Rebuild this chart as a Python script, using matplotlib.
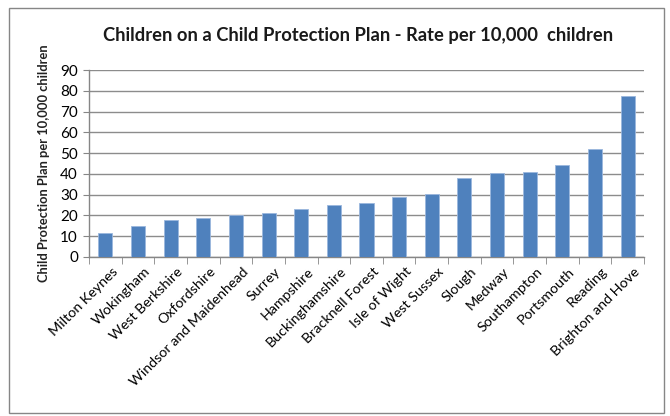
import matplotlib
matplotlib.use("Agg")
import matplotlib.pyplot as plt
from matplotlib.patches import Rectangle
from matplotlib.transforms import ScaledTranslation
import numpy as np

areas = [
    "Milton Keynes", "Wokingham", "West Berkshire", "Oxfordshire",
    "Windsor and Maidenhead", "Surrey", "Hampshire", "Buckinghamshire",
    "Bracknell Forest", "Isle of Wight", "West Sussex", "Slough", "Medway",
    "Southampton", "Portsmouth", "Reading", "Brighton and Hove",
]
rates = [11.5, 15.1, 17.6, 18.9, 20.2, 21.2, 23.1, 25.2, 26.0, 28.7,
         30.1, 38.1, 40.2, 40.9, 44.2, 51.9, 77.4]
y_ticks = list(range(0, 100, 10))

plt.rcParams["font.family"] = ["Lato", "DejaVu Sans"]

fig = plt.figure(figsize=(6.7, 4.16), dpi=100)
ax = fig.add_axes([89 / 670, 1 - 257 / 416, (644 - 89) / 670, (257 - 70) / 416])

x = np.arange(len(areas))
ax.bar(x, rates, width=0.43, color="#4F81BD", edgecolor="#9BB7DD",
       linewidth=0.6, zorder=3)

ax.set_xlim(-0.5, len(areas) - 0.5)
ax.set_ylim(0, 90)
ax.set_yticks(y_ticks)
ax.tick_params(axis="y", labelsize=11, length=4, color="#868686",
               direction="out", pad=4)
ax.grid(axis="y", color="#8c8c8c", linewidth=1.0, zorder=0)

# category ticks sit between the bars
ax.set_xticks(x)
ax.set_xticklabels(areas, rotation=45, ha="right", rotation_mode="anchor",
                   fontsize=10.3)
ax.tick_params(axis="x", length=0, pad=6)
shift = ScaledTranslation(6 / 100, 0, fig.dpi_scale_trans)
for lbl in ax.get_xticklabels():
    lbl.set_transform(lbl.get_transform() + shift)
ax.set_xticks(np.arange(-0.5, len(areas)), minor=True)
ax.tick_params(axis="x", which="minor", length=5, color="#868686",
               direction="out")

for side in ("top", "right"):
    ax.spines[side].set_visible(False)
for side in ("left", "bottom"):
    ax.spines[side].set_color("#868686")
    ax.spines[side].set_linewidth(1.0)

ax.set_ylabel("Child Protection Plan per 10,000 children", fontsize=9.3,
              fontweight="bold", color="#222222", labelpad=7)
fig.text(0.535, 1 - 35 / 416, "Children on a Child Protection Plan - Rate per 10,000  children",
         ha="center", va="center", fontsize=13.2, fontweight="bold",
         color="#1a1a1a")

fig.patches.append(Rectangle((9 / 670, 3 / 416), 655 / 670, 405 / 416,
                             transform=fig.transFigure, fill=False,
                             edgecolor="#868686", linewidth=1.0))

fig.savefig("out.png", dpi=100)
